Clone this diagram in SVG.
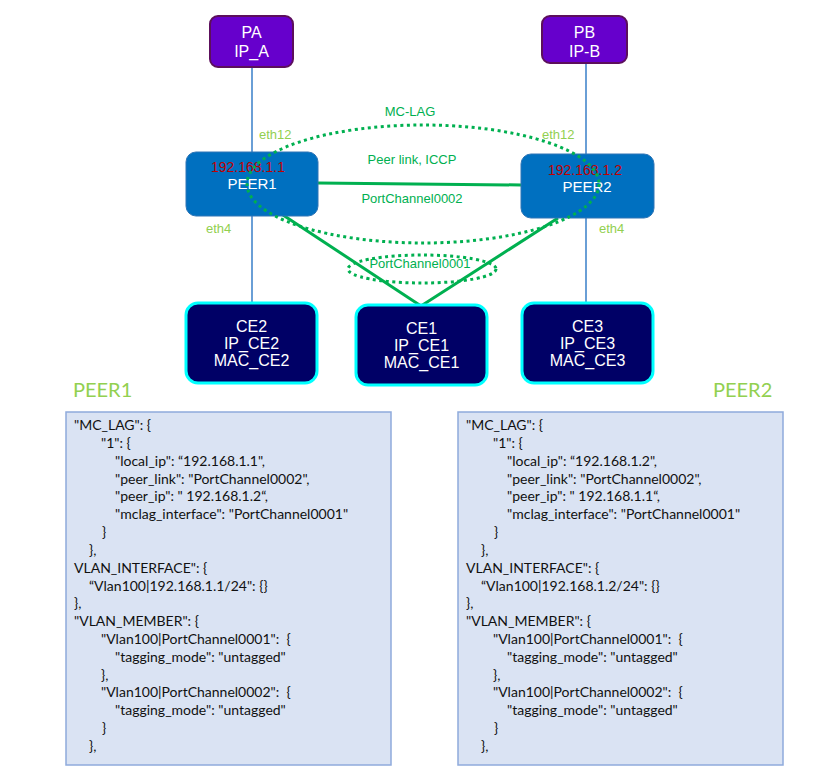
<svg xmlns="http://www.w3.org/2000/svg" width="832" height="776" viewBox="0 0 832 776">
<style>
.host{fill:#6600CC;stroke:#5C0F5C;stroke-width:2}
.peer{fill:#0070C0;stroke:#2E75B6;stroke-width:1}
.ce{fill:#000066;stroke:#00FFFF;stroke-width:3}
.panel{fill:#DAE3F3;stroke:#8FAADC;stroke-width:1.5}
.wt{font-family:"Liberation Sans",Arial,sans-serif;font-size:16px;fill:#FFFFFF;text-anchor:middle}
.pt{font-family:"Liberation Sans",Arial,sans-serif;font-size:15px;fill:#FFFFFF;text-anchor:middle}
.ip{font-family:"Liberation Sans",Arial,sans-serif;font-size:14px;fill:#C00000;text-anchor:middle}
.gl{font-family:"Liberation Sans",Arial,sans-serif;font-size:13px;fill:#00B050;text-anchor:middle}
.eth{font-family:"Liberation Sans",Arial,sans-serif;font-size:13px;fill:#92D050}
.title{font-family:Lato,"Liberation Sans",sans-serif;font-size:20px;fill:#92D050}
.code{font-family:Lato,"Liberation Sans",sans-serif;font-size:14px;fill:#111111;white-space:pre}
.blue{stroke:#6A9FD6;stroke-width:2;fill:none}
.green{stroke:#00B050;stroke-width:3;fill:none}
.dot{stroke:#00B050;stroke-width:3;fill:none;stroke-dasharray:3 3.5}
</style>
<g id="connectors">
<line class="blue" x1="252" y1="67" x2="252" y2="152"/>
<line class="blue" x1="586" y1="63" x2="586" y2="154"/>
<line class="blue" x1="252" y1="216" x2="252" y2="303"/>
<line class="blue" x1="586" y1="218" x2="586" y2="303"/>
<line class="green" x1="318" y1="183" x2="521" y2="185"/>
<polyline class="green" points="283,215 421,306 558,218"/>
</g>
<g id="PA">
<rect class="host" x="210" y="16" width="83" height="51" rx="8"/>
<text class="wt" x="251.5" y="38">PA</text>
<text class="wt" x="251.5" y="57">IP_A</text>
</g>
<g id="PB">
<rect class="host" x="542" y="16" width="85" height="47" rx="8"/>
<text class="wt" x="584.5" y="38">PB</text>
<text class="wt" x="584.5" y="57">IP-B</text>
</g>
<g id="PEER1">
<rect class="peer" x="186" y="152" width="132" height="64" rx="10"/>
<text class="ip" x="248" y="172">192.168.1.1</text>
<text class="pt" x="252" y="189">PEER1</text>
</g>
<g id="PEER2">
<rect class="peer" x="521" y="154" width="133" height="64" rx="10"/>
<text class="ip" x="585" y="175">192.168.1.2</text>
<text class="pt" x="587" y="192">PEER2</text>
</g>
<g id="CE2">
<rect class="ce" x="186" y="303" width="131" height="80" rx="12"/>
<text class="wt" x="251.5" y="332">CE2</text>
<text class="wt" x="251.5" y="349">IP_CE2</text>
<text class="wt" x="251.5" y="366">MAC_CE2</text>
</g>
<g id="CE1">
<rect class="ce" x="356" y="305" width="131" height="80" rx="12"/>
<text class="wt" x="421.5" y="334">CE1</text>
<text class="wt" x="421.5" y="351">IP_CE1</text>
<text class="wt" x="421.5" y="368">MAC_CE1</text>
</g>
<g id="CE3">
<rect class="ce" x="522" y="303" width="131" height="80" rx="12"/>
<text class="wt" x="587.5" y="332">CE3</text>
<text class="wt" x="587.5" y="349">IP_CE3</text>
<text class="wt" x="587.5" y="366">MAC_CE3</text>
</g>
<g id="MC-LAG">
<ellipse class="dot" cx="423" cy="184" rx="176" ry="59"/>
<text class="gl" x="410" y="116">MC-LAG</text>
<text class="gl" x="412" y="164">Peer link, ICCP</text>
<text class="gl" x="412" y="203">PortChannel0002</text>
</g>
<g id="PortChannel0001">
<ellipse class="dot" cx="422" cy="269" rx="74" ry="14"/>
<text class="gl" x="420" y="268">PortChannel0001</text>
</g>
<g id="eth-labels">
<text class="eth" x="259" y="139">eth12</text>
<text class="eth" x="542" y="139">eth12</text>
<text class="eth" x="206" y="233">eth4</text>
<text class="eth" x="599" y="233">eth4</text>
</g>
<g id="PEER1-config">
<text class="title" x="73" y="397">PEER1</text>
<rect class="panel" x="66" y="412" width="325" height="353"/>
<text class="code" y="430">
<tspan x="74">"MC_LAG": {</tspan>
<tspan x="101" y="448">"1": {</tspan>
<tspan x="115" y="466">"local_ip": “192.168.1.1",</tspan>
<tspan x="115" y="484">"peer_link": "PortChannel0002",</tspan>
<tspan x="115" y="501">"peer_ip": " 192.168.1.2“,</tspan>
<tspan x="115" y="519">"mclag_interface": "PortChannel0001"</tspan>
<tspan x="102" y="537">}</tspan>
<tspan x="89" y="555">},</tspan>
<tspan x="74" y="573">VLAN_INTERFACE": {</tspan>
<tspan x="89" y="591">“Vlan100|192.168.1.1/24": {}</tspan>
<tspan x="74" y="608">},</tspan>
<tspan x="74" y="626">"VLAN_MEMBER": {</tspan>
<tspan x="101" y="644">"Vlan100|PortChannel0001":  {</tspan>
<tspan x="115" y="662">"tagging_mode": "untagged"</tspan>
<tspan x="101" y="680">},</tspan>
<tspan x="101" y="697">"Vlan100|PortChannel0002":  {</tspan>
<tspan x="115" y="715">"tagging_mode": "untagged"</tspan>
<tspan x="102" y="733">}</tspan>
<tspan x="89" y="751">},</tspan>
</text>
</g>
<g id="PEER2-config">
<text class="title" x="713" y="397">PEER2</text>
<rect class="panel" x="458" y="412" width="325" height="353"/>
<text class="code" y="430">
<tspan x="466">"MC_LAG": {</tspan>
<tspan x="493" y="448">"1": {</tspan>
<tspan x="507" y="466">"local_ip": “192.168.1.2",</tspan>
<tspan x="507" y="484">"peer_link": "PortChannel0002",</tspan>
<tspan x="507" y="501">"peer_ip": " 192.168.1.1“,</tspan>
<tspan x="507" y="519">"mclag_interface": "PortChannel0001"</tspan>
<tspan x="494" y="537">}</tspan>
<tspan x="481" y="555">},</tspan>
<tspan x="466" y="573">VLAN_INTERFACE": {</tspan>
<tspan x="481" y="591">“Vlan100|192.168.1.2/24": {}</tspan>
<tspan x="466" y="608">},</tspan>
<tspan x="466" y="626">"VLAN_MEMBER": {</tspan>
<tspan x="493" y="644">"Vlan100|PortChannel0001":  {</tspan>
<tspan x="507" y="662">"tagging_mode": "untagged"</tspan>
<tspan x="493" y="680">},</tspan>
<tspan x="493" y="697">"Vlan100|PortChannel0002":  {</tspan>
<tspan x="507" y="715">"tagging_mode": "untagged"</tspan>
<tspan x="494" y="733">}</tspan>
<tspan x="481" y="751">},</tspan>
</text>
</g>
</svg>
